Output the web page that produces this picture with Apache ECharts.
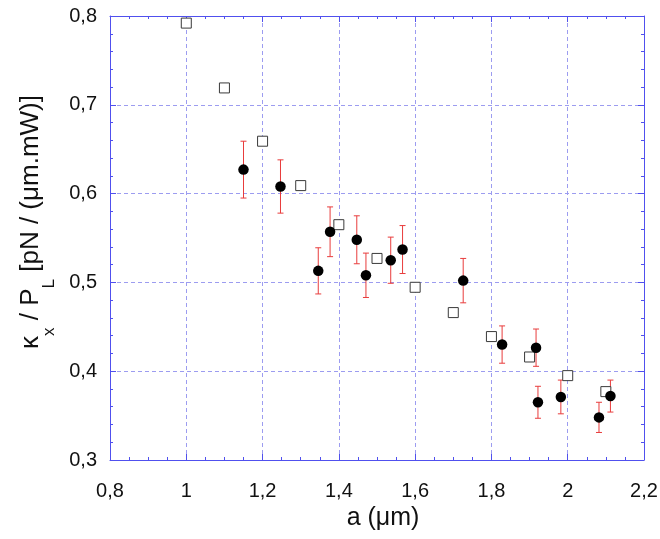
<!DOCTYPE html>
<html>
<head>
<meta charset="utf-8">
<script src="https://cdn.jsdelivr.net/npm/echarts@6/dist/echarts.min.js"></script>
<style>html,body{margin:0;padding:0;background:#fff}#c{width:660px;height:539px}</style>
</head>
<body>
<div id="c"></div>
<script>
// Open squares (theory)
var squareX = [1.0, 1.1, 1.2, 1.3, 1.4, 1.5, 1.6, 1.7, 1.8, 1.9, 2.0, 2.1];
var squareY = [0.792, 0.719, 0.659, 0.609, 0.565, 0.527, 0.4945, 0.466, 0.439, 0.416, 0.395, 0.377];
// Filled circles (measurements) with error bars
var circleX = [1.150, 1.247, 1.346, 1.377, 1.447, 1.471, 1.536, 1.567, 1.726, 1.828, 1.917, 1.922, 1.982, 2.082, 2.112];
var circleY = [0.627, 0.608, 0.513, 0.557, 0.548, 0.508, 0.525, 0.537, 0.502, 0.430, 0.4265, 0.365, 0.371, 0.348, 0.372];
var circleErr = [0.032, 0.030, 0.026, 0.028, 0.027, 0.025, 0.026, 0.027, 0.025, 0.021, 0.021, 0.018, 0.019, 0.017, 0.018];
// Axis ticks
var xTicks = {min: 0.8, max: 2.2, step: 0.2};
var yTicks = {min: 0.3, max: 0.8, step: 0.1};

var squares = squareX.map(function (x, i) { return [x, squareY[i]]; });
var circles = circleX.map(function (x, i) { return [x, circleY[i]]; });
var errData = circleX.map(function (x, i) { return [x, circleY[i] - circleErr[i], circleY[i] + circleErr[i]]; });

var AX = '#5050ee';
var GRID = '#9c9cf0';
var FONT = 'Liberation Sans';
function fmt(v) { return (Math.round(v * 10) / 10).toString().replace('.', ','); }

function axisCommon(isX, secondary, pos) {
  var t = isX ? xTicks : yTicks;
  return {
    type: 'value', position: pos, min: t.min, max: t.max, interval: t.step,
    axisLine: {show: true, onZero: false, lineStyle: {color: AX, width: 1}},
    axisTick: {show: true, inside: true, length: 6, lineStyle: {color: AX}},
    minorTick: {show: true, splitNumber: isX ? 4 : 5, length: 3, lineStyle: {color: AX}},
    splitLine: {show: !secondary, lineStyle: {color: GRID, type: [4, 3], width: 1}},
    axisLabel: secondary ? {show: false} : {
      show: true, formatter: fmt, color: '#111', fontFamily: FONT, fontSize: 20,
      margin: isX ? 21 : 13
    }
  };
}

var xMain = axisCommon(true, false, 'bottom');
xMain.name = 'a (\u03bcm)';
xMain.nameLocation = 'middle';
xMain.nameGap = 38;
xMain.nameTextStyle = {fontFamily: FONT, fontSize: 25, color: '#111', padding: [0, 0, 0, 12]};

var yMain = axisCommon(false, false, 'left');
yMain.name = '{a|\u03ba}{s|x}{a| / P}{s|L}{a| [pN / (\u03bcm.mW)]}';
yMain.nameLocation = 'middle';
yMain.nameGap = 52;
yMain.nameTextStyle = {
  fontFamily: FONT, fontSize: 26, color: '#111', padding: [0, 0, 0, 32],
  rich: {
    a: {fontFamily: FONT, fontSize: 26, color: '#111', lineHeight: 30, verticalAlign: 'top'},
    s: {fontFamily: FONT, fontSize: 17, color: '#111', lineHeight: 40, verticalAlign: 'bottom'}
  }
};

var xTop = axisCommon(true, true, 'top');
var yRight = axisCommon(false, true, 'right');

var chart = echarts.init(document.getElementById('c'), null, {renderer: 'canvas'});
chart.setOption({
  backgroundColor: '#fff',
  animation: false,
  grid: {left: 110, right: 16, top: 16, bottom: 79, containLabel: false, outerBoundsMode: 'none'},
  xAxis: [xMain, xTop],
  yAxis: [yMain, yRight],
  series: [
    {
      type: 'custom', xAxisIndex: 0, yAxisIndex: 0, z: 2,
      data: errData,
      renderItem: function (params, api) {
        var lo = api.coord([api.value(0), api.value(1)]);
        var hi = api.coord([api.value(0), api.value(2)]);
        var hw = 3;
        var st = {stroke: '#e83c3c', lineWidth: 1};
        return {type: 'group', children: [
          {type: 'line', shape: {x1: lo[0], y1: lo[1], x2: hi[0], y2: hi[1]}, style: st},
          {type: 'line', shape: {x1: lo[0] - hw, y1: lo[1], x2: lo[0] + hw, y2: lo[1]}, style: st},
          {type: 'line', shape: {x1: hi[0] - hw, y1: hi[1], x2: hi[0] + hw, y2: hi[1]}, style: st}
        ]};
      }
    },
    {
      type: 'scatter', xAxisIndex: 0, yAxisIndex: 0, z: 3,
      data: squares, symbol: 'rect', symbolSize: 10,
      itemStyle: {color: '#fff', borderColor: '#3a3a3a', borderWidth: 1, opacity: 1}
    },
    {
      type: 'scatter', xAxisIndex: 0, yAxisIndex: 0, z: 4,
      data: circles, symbol: 'circle', symbolSize: 10.5,
      itemStyle: {color: '#000', opacity: 1}
    }
  ]
});
</script>
</body>
</html>
